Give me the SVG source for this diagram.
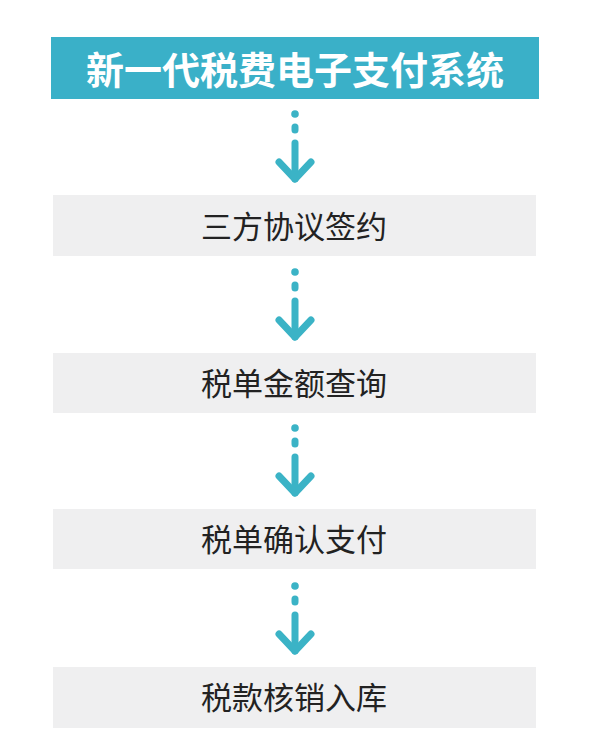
<svg xmlns="http://www.w3.org/2000/svg" width="589" height="754" viewBox="0 0 589 754">
<style>
.box{fill:#efeff0}
.lbl{font-family:"Noto Sans CJK SC","Noto Sans",sans-serif;font-size:31px;fill:#222;text-anchor:middle}
.hdr{font-family:"Noto Sans CJK SC","Noto Sans",sans-serif;font-size:38px;font-weight:bold;fill:#fff;text-anchor:middle}
.arr{stroke:#3bb3c6;stroke-width:7;stroke-linecap:round;stroke-linejoin:round;fill:none}
.dot{fill:#3bb3c6}
</style>
<defs>
<g id="arrow">
<circle class="dot" cx="0" cy="0" r="3.8"/>
<line class="arr" x1="0" y1="13" x2="0" y2="16"/>
<line class="arr" x1="0" y1="29" x2="0" y2="65"/>
<polyline class="arr" points="-16,48 0,65 16,48"/>
</g>
</defs>
<rect width="589" height="754" fill="#ffffff"/>
<g id="connectors">
<use href="#arrow" x="295" y="114"/>
<use href="#arrow" x="295" y="272"/>
<use href="#arrow" x="295" y="428"/>
<use href="#arrow" x="295" y="586"/>
</g>
<g id="header">
<rect x="51" y="37" width="488" height="62" fill="#3ab0c8"/>
<text class="hdr" x="295" y="84">新一代税费电子支付系统</text>
</g>
<g id="node1">
<rect class="box" x="53" y="195" width="483" height="61"/>
<text class="lbl" x="294" y="238">三方协议签约</text>
</g>
<g id="node2">
<rect class="box" x="53" y="353" width="483" height="60"/>
<text class="lbl" x="294" y="395">税单金额查询</text>
</g>
<g id="node3">
<rect class="box" x="53" y="509" width="483" height="60"/>
<text class="lbl" x="294" y="551">税单确认支付</text>
</g>
<g id="node4">
<rect class="box" x="53" y="667" width="483" height="61"/>
<text class="lbl" x="294" y="709">税款核销入库</text>
</g>
</svg>
